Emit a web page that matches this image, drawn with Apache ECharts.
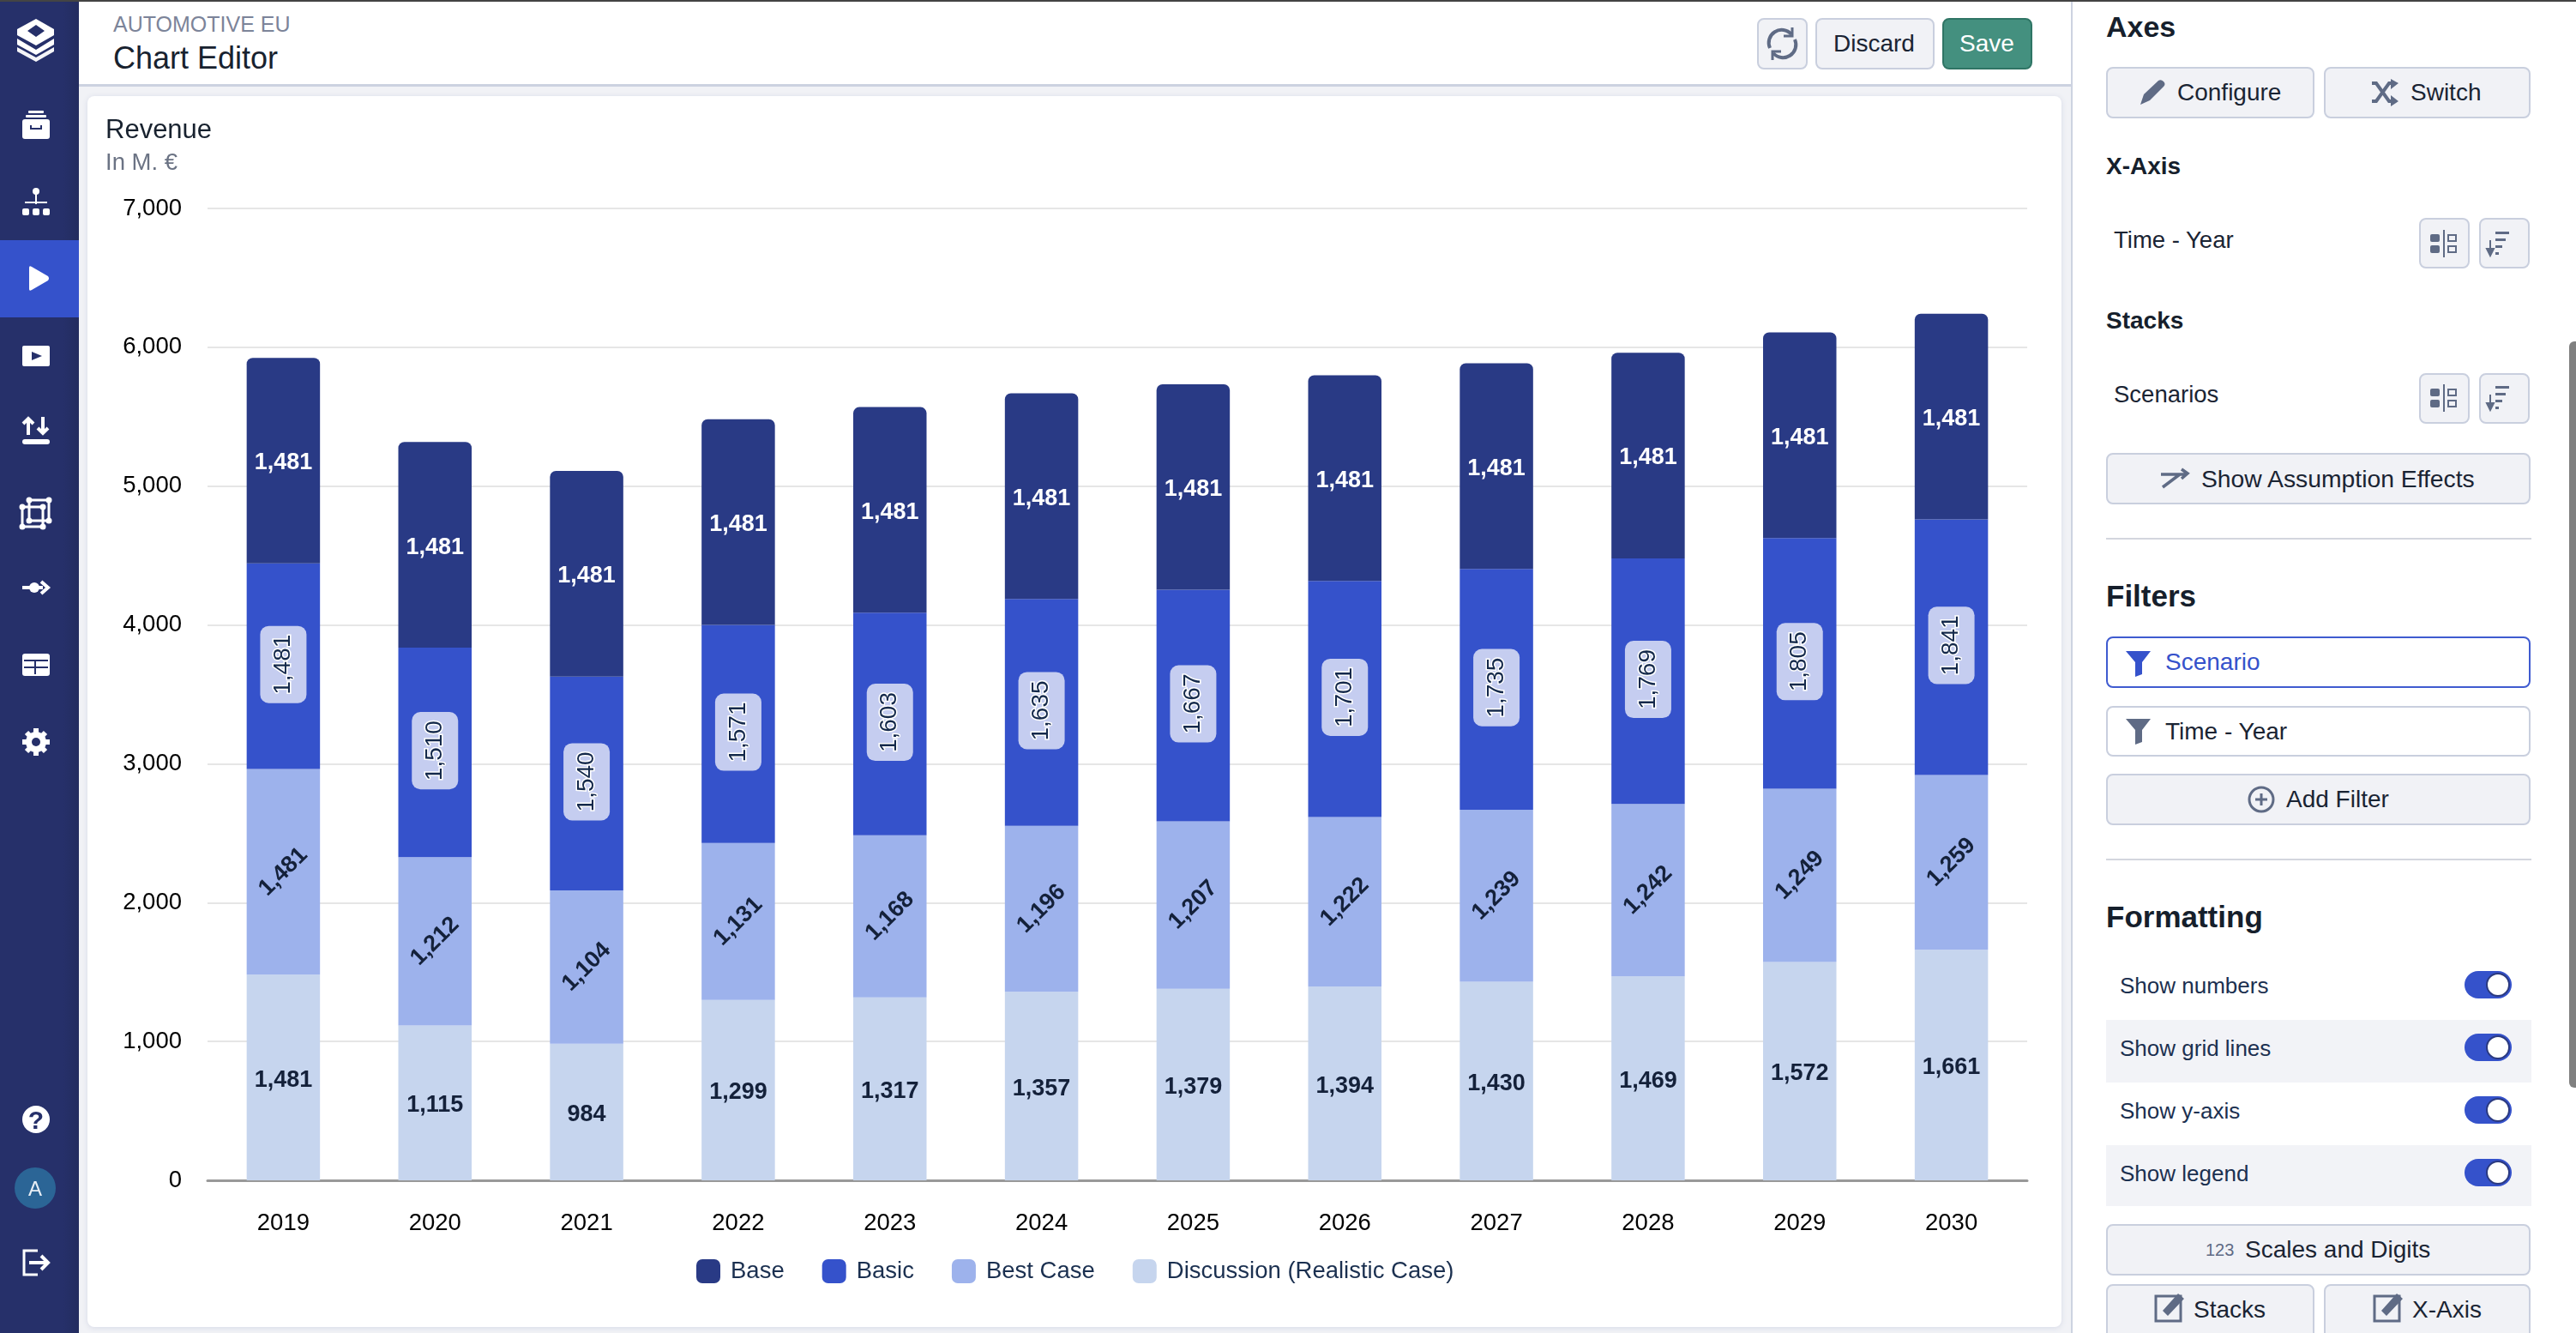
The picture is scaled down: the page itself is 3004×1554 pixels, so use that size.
<!DOCTYPE html>
<html>
<head>
<meta charset="utf-8">
<title>Chart Editor</title>
<script src="https://cdn.jsdelivr.net/npm/echarts@6/dist/echarts.min.js"></script>
<style>
	html, body { margin: 0; width: 3004px; height: 1554px; overflow: hidden; background: #f1f2f6; font-family: "Liberation Sans", Arial, sans-serif; color: #1a2433; }
	.abs, .btn, .txt, .row { position: absolute; box-sizing: border-box; white-space: nowrap; }
	.btn { background: #f1f2f6; border: 2px solid #c9cfde; border-radius: 8px; font-size: 28px; }
	.btn span { position: absolute; top: 50%; transform: translateY(-50%); }
	.txt { transform: translateY(-50%); }
	.h { font-weight: bold; color: #161f2c; }
	.row { left: 2456px; width: 496px; background: #f2f3f7; }
	.tog { position: absolute; left: 2874px; width: 55px; height: 32px; border-radius: 16px; background: #3552cb; }
	.tog i { position: absolute; left: 25px; top: 2px; width: 24px; height: 24px; border-radius: 50%; background: #fff; border: 2px solid #2b3a80; }
	.row-txt { color: #1b3050; font-size: 26px; left: 2472px; }
</style>
</head>
<body>
	<!-- top strip, sidebar -->
	<div class="abs" style="left:0;top:0;width:92px;height:1554px;background:linear-gradient(to right,#26306a 80%,#232c5f)"></div>
	<div class="abs" style="left:0;top:280px;width:92px;height:90px;background:#3552cb"></div>
	<div class="abs" style="left:92px;top:0;width:2323px;height:101px;background:#fff;border-bottom:3px solid #ccd2e0"></div>
	<div class="abs" style="left:2415px;top:0;width:589px;height:1554px;background:#fff;border-left:2px solid #cdd3e1"></div>
	<div class="abs" style="left:0;top:0;width:3004px;height:2px;background:#444"></div>
	<div class="abs" style="left:2996px;top:398px;width:8px;height:870px;background:#808080;border-radius:6px 0 0 6px"></div>

	<!-- header -->
	<div class="txt" style="left:132px;top:28px;font-size:25px;color:#7c8499">AUTOMOTIVE EU</div>
	<div class="txt" style="left:132px;top:68px;font-size:36px;color:#18222f">Chart Editor</div>
	<div class="btn" style="left:2049px;top:21px;width:59px;height:60px"></div>
	<div class="btn" style="left:2117px;top:21px;width:139px;height:60px"><span style="left:19px">Discard</span></div>
	<div class="btn" style="left:2265px;top:21px;width:105px;height:60px;background:#44907f;border-color:#2f7565;color:#fff"><span style="left:18px">Save</span></div>

	<!-- chart card -->
	<div id="chart" class="abs" style="left:102px;top:112px;width:2302px;height:1435px;background:#fff;border-radius:8px;box-shadow:0 1px 6px #d5d9e6"></div>

	<!-- right panel -->
	<div class="txt h" style="left:2456px;top:31px;font-size:34px">Axes</div>
	<div class="btn" style="left:2456px;top:78px;width:243px;height:60px"><span style="left:81px">Configure</span></div>
	<div class="btn" style="left:2710px;top:78px;width:241px;height:60px"><span style="left:99px">Switch</span></div>
	<div class="txt h" style="left:2456px;top:194px;font-size:28px">X-Axis</div>
	<div class="txt" style="left:2465px;top:280px;font-size:27.5px">Time - Year</div>
	<div class="btn" style="left:2821px;top:254px;width:59px;height:59px"></div>
	<div class="btn" style="left:2891px;top:254px;width:59px;height:59px"></div>
	<div class="txt h" style="left:2456px;top:374px;font-size:28px">Stacks</div>
	<div class="txt" style="left:2465px;top:460px;font-size:27.5px">Scenarios</div>
	<div class="btn" style="left:2821px;top:435px;width:59px;height:59px"></div>
	<div class="btn" style="left:2891px;top:435px;width:59px;height:59px"></div>
	<div class="btn" style="left:2456px;top:528px;width:495px;height:60px"><span style="left:109px;font-size:28.300px">Show Assumption Effects</span></div>
	<div class="abs" style="left:2456px;top:627px;width:496px;height:2px;background:#d3d6de"></div>

	<div class="txt h" style="left:2456px;top:695px;font-size:35px">Filters</div>
	<div class="btn" style="left:2456px;top:742px;width:495px;height:60px;background:#fff;border-color:#3f5bd0;color:#3552cb"><span style="left:67px">Scenario</span></div>
	<div class="btn" style="left:2456px;top:823px;width:495px;height:59px;background:#fff"><span style="left:67px">Time - Year</span></div>
	<div class="btn" style="left:2456px;top:902px;width:495px;height:60px"><span style="left:208px">Add Filter</span></div>
	<div class="abs" style="left:2456px;top:1001px;width:496px;height:2px;background:#d3d6de"></div>

	<div class="txt h" style="left:2456px;top:1069px;font-size:35px">Formatting</div>
	<div class="row" style="top:1189px;height:73px"></div>
	<div class="row" style="top:1335px;height:71px"></div>
	<div class="txt row-txt" style="top:1149px">Show numbers</div>
	<div class="txt row-txt" style="top:1222px">Show grid lines</div>
	<div class="txt row-txt" style="top:1295px">Show y-axis</div>
	<div class="txt row-txt" style="top:1368px">Show legend</div>
	<div class="tog" style="top:1132px"><i></i></div>
	<div class="tog" style="top:1205px"><i></i></div>
	<div class="tog" style="top:1278px"><i></i></div>
	<div class="tog" style="top:1351px"><i></i></div>

	<div class="btn" style="left:2456px;top:1427px;width:495px;height:60px"><span style="left:114px;font-size:20px;color:#5f6b85">123</span><span style="left:160px">Scales and Digits</span></div>
	<div class="btn" style="left:2456px;top:1497px;width:243px;height:70px"><span style="left:100px;top:28px">Stacks</span></div>
	<div class="btn" style="left:2710px;top:1497px;width:241px;height:70px"><span style="left:101px;top:28px">X-Axis</span></div>

	<!-- icons -->
	<svg class="abs" width="3004" height="1554" style="left:0;top:0;pointer-events:none">
		<g fill="#fff" stroke="none">
			<path d="M42 22 L63 34 V41 L42 53 L20 41 V34 Z M42 29 L32 36 L42 43 L52 36 Z" fill-rule="evenodd"/>
			<path d="M20 45 L42 58 L63 45 V52 L42 64 L20 52 Z"/>
			<path d="M20 55 L42 67 L63 55 V60 L42 72 L20 60 Z" opacity=".95"/>
			<rect x="33" y="129" width="18" height="3" rx="1"/><rect x="30" y="134" width="24" height="3" rx="1"/>
			<rect x="26" y="139" width="32" height="23" rx="3"/>
			<circle cx="42" cy="223" r="4"/><rect x="41" y="226" width="2" height="12"/><rect x="29" y="235" width="26" height="2"/>
			<rect x="26" y="243" width="8" height="8" rx="2"/><rect x="38" y="243" width="8" height="8" rx="2"/><rect x="50" y="243" width="8" height="8" rx="2"/>
			<path d="M34 312 Q34 309 37 311 L56 322 Q58 324.500 56 327 L37 338 Q34 340 34 337 Z"/>
			<rect x="26" y="403" width="32" height="24" rx="2"/>
			<rect x="26" y="512" width="32" height="6" rx="3"/>
			<rect x="26" y="762" width="32" height="26" rx="3"/>
			<circle cx="42" cy="865" r="12"/>
			<ellipse cx="42" cy="1305" rx="16" ry="16"/>
			<circle cx="40" cy="685" r="6"/>
		</g>
		<path d="M37 410 L49 415 L37 420 Z" fill="#26306a"/>
		<path d="M36 146 v4 h12 v-4" fill="none" stroke="#26306a" stroke-width="2"/>
		<g fill="none" stroke="#fff" stroke-width="4">
			<path d="M33 507 V488 M27 494 L33 488 L39 494"/>
			<path d="M50 486 V505 M44 499 L50 505 L56 499"/>
			<rect x="26" y="591" width="24" height="23" stroke-width="3"/>
			<rect x="34" y="583" width="23" height="24" stroke-width="3"/>
			<path d="M26 685 H50" stroke-width="4"/>
			<path d="M48 678 L56 685 L48 692" stroke-width="4"/>
			<path d="M42 849 V855 M42 875 V881 M26 865 H32 M52 865 H58 M31 854 L35 858 M53 854 L49 858 M31 876 L35 872 M53 876 L49 872" stroke-width="6"/>
			<path d="M44 1458 H28 V1486 H44" stroke-width="3"/>
			<path d="M34 1472 H56 M48 1464 L56 1472 L48 1480" stroke-width="4"/>
		</g>
		<g fill="#fff">
			<circle cx="26" cy="591" r="3.500"/><circle cx="50" cy="591" r="3.500"/><circle cx="26" cy="614" r="3.500"/><circle cx="50" cy="614" r="3.500"/>
			<circle cx="34" cy="583" r="3.500"/><circle cx="57" cy="583" r="3.500"/><circle cx="34" cy="607" r="3.500"/><circle cx="57" cy="607" r="3.500"/>
		</g>
		<g fill="#26306a">
			<rect x="28" y="769" width="28" height="2"/><rect x="28" y="777" width="28" height="2"/><rect x="40" y="769" width="2" height="17"/>
			<circle cx="42" cy="865" r="5"/>
		</g>
		<text x="42" y="1316" text-anchor="middle" font-family="Liberation Sans" font-size="30" font-weight="bold" fill="#26306a">?</text>
		<circle cx="41" cy="1385" r="24" fill="#2b6596"/>
		<text x="41" y="1394" text-anchor="middle" font-family="Liberation Sans" font-size="24" fill="#e8eef5">A</text>

		<g fill="none" stroke="#5f6b85" stroke-width="4">
			<path d="M2064 56 A15 15 0 0 1 2089 40 M2093 46 A15 15 0 0 1 2068 62"/>
			<path d="M2090 32 V42 H2080 M2067 70 V60 H2077" stroke-width="3"/>
			<path d="M2766 97 H2771 L2786 118 H2792 M2766 118 H2771 L2786 97 H2792" stroke-width="4"/>
			<path d="M2520 553 H2549 M2522 568 L2542 553 M2544 547 L2551 552 L2544 558" stroke-width="3.500"/>
			<circle cx="2637" cy="932" r="14" stroke-width="3"/>
			<path d="M2637 925 V939 M2630 932 H2644" stroke-width="3"/>
			<rect x="2514" y="1511" width="29" height="29" stroke-width="3"/>
			<rect x="2769" y="1511" width="29" height="29" stroke-width="3"/>
		</g>
		<g fill="#5f6b85">
			<path d="M2496 122 L2500 110 L2517 94 Q2520 92 2523 95 Q2526 98 2523 101 L2507 117 Z"/>
			<path d="M2788 92 L2797 97 L2788 104 Z M2788 111 L2797 118 L2788 124 Z"/>
			<path d="M2479 838 H2508 L2498 851 V865 L2490 868 V851 Z"/>
			<path d="M2522 1528 L2540 1508 L2547 1514 L2528 1534 Z M2777 1528 L2795 1508 L2802 1514 L2783 1534 Z"/>
		</g>
		<path d="M2479 759 H2508 L2498 772 V786 L2490 789 V772 Z" fill="#3552cb"/>
		<g fill="#5f6b85">
			<rect x="2834" y="273" width="11" height="9" rx="2"/><rect x="2834" y="286" width="11" height="9" rx="2"/><rect x="2849" y="268" width="2" height="32"/>
			<rect x="2855" y="274" width="9" height="7" fill="none" stroke="#5f6b85" stroke-width="2"/><rect x="2855" y="287" width="9" height="7" fill="none" stroke="#5f6b85" stroke-width="2"/>
			<rect x="2834" y="453" width="11" height="9" rx="2"/><rect x="2834" y="466" width="11" height="9" rx="2"/><rect x="2849" y="448" width="2" height="32"/>
			<rect x="2855" y="454" width="9" height="7" fill="none" stroke="#5f6b85" stroke-width="2"/><rect x="2855" y="467" width="9" height="7" fill="none" stroke="#5f6b85" stroke-width="2"/>
			<rect x="2910" y="270" width="16" height="3"/><rect x="2910" y="278" width="12" height="3"/><rect x="2910" y="286" width="8" height="3"/><rect x="2910" y="294" width="4" height="3"/>
			<path d="M2904 280 V293 M2900 290 L2904 298 L2908 290 Z" stroke="#5f6b85" stroke-width="2"/>
			<rect x="2910" y="450" width="16" height="3"/><rect x="2910" y="458" width="12" height="3"/><rect x="2910" y="466" width="8" height="3"/><rect x="2910" y="474" width="4" height="3"/>
			<path d="M2904 460 V473 M2900 470 L2904 478 L2908 470 Z" stroke="#5f6b85" stroke-width="2"/>
		</g>
	</svg>

	<script>
		var years = ["2019", "2020", "2021", "2022", "2023", "2024", "2025", "2026", "2027", "2028", "2029", "2030"]
		var base = [1481, 1481, 1481, 1481, 1481, 1481, 1481, 1481, 1481, 1481, 1481, 1481]
		var basic = [1481, 1510, 1540, 1571, 1603, 1635, 1667, 1701, 1735, 1769, 1805, 1841]
		var bestCase = [1481, 1212, 1104, 1131, 1168, 1196, 1207, 1222, 1239, 1242, 1249, 1259]
		var discussion = [1481, 1115, 984, 1299, 1317, 1357, 1379, 1394, 1430, 1469, 1572, 1661]
		var legendNames = ["Base", "Basic", "Best Case", "Discussion (Realistic Case)"]

		var font = "Liberation Sans"
		var dark = "#14213a"

		function fmt(v) {
			return Number(v).toLocaleString("en-US")
		}

		// bottom segment goes first, stack is drawn upwards
		function barSeries(name, values, color, label, radius) {
			return {
				name: name,
				type: "bar",
				stack: "total",
				barWidth: 85.5,
				data: values,
				itemStyle: { color: color, borderRadius: radius || 0 },
				label: Object.assign({
					show: true,
					position: "inside",
					offset: [0, 3],
					fontFamily: font,
					fontSize: 27,
					fontWeight: "bold",
					color: dark,
					textBorderWidth: 0,
					formatter: function (p) { return fmt(p.value) }
				}, label)
			}
		}

		var mCharts = echarts.init(document.getElementById("chart"))

		var opt = {
			animation: false,
			title: {
				text: "Revenue",
				subtext: "In M. €",
				left: 21,
				top: 25,
				padding: 0,
				itemGap: 8,
				textStyle: { fontFamily: font, fontSize: 31, fontWeight: "normal", color: "#18222f" },
				subtextStyle: { fontFamily: font, fontSize: 27.5, color: "#6b7384" }
			},
			legend: {
				left: 710,
				top: 1356,
				padding: 0,
				icon: "roundRect",
				itemWidth: 28,
				itemHeight: 28,
				itemGap: 44,
				data: legendNames,
				textStyle: { fontFamily: font, fontSize: 27.5, color: "#1b3050", padding: [0, 0, 0, 7] }
			},
			grid: { left: 140, right: 40, top: 131, height: 1133 },
			xAxis: {
				type: "category",
				data: years,
				axisTick: { show: false },
				axisLine: { lineStyle: { color: "#999", width: 3 } },
				axisLabel: { margin: 36, fontFamily: font, fontSize: 27.5, color: "#000" }
			},
			yAxis: {
				type: "value",
				min: 0,
				max: 7000,
				interval: 1000,
				axisLine: { show: false },
				axisTick: { show: false },
				splitLine: { lineStyle: { color: "#e6e6e6", width: 2 } },
				axisLabel: { margin: 30, fontFamily: font, fontSize: 27.5, color: "#000", padding: [6, 0, 0, 0], formatter: fmt }
			},
			series: [
				barSeries(legendNames[3], discussion, "#c6d5ee", {}),
				barSeries(legendNames[2], bestCase, "#9db2ec", { rotate: 45, offset: [0, 0] }),
				barSeries(legendNames[1], basic, "#3552cb", {
					rotate: 90,
					offset: [2, 0],
					fontWeight: "normal",
					fontSize: 28,
					color: "#14294b",
					textBorderColor: "#fff",
					textBorderWidth: 3,
					backgroundColor: "#c5cdf0",
					borderRadius: 10,
					lineHeight: 32,
					padding: [11, 10]
				}),
				barSeries(legendNames[0], base, "#293a85", { color: "#fff" }, [7, 7, 0, 0])
			]
		}

		mCharts.setOption(opt)
	</script>
</body>
</html>
